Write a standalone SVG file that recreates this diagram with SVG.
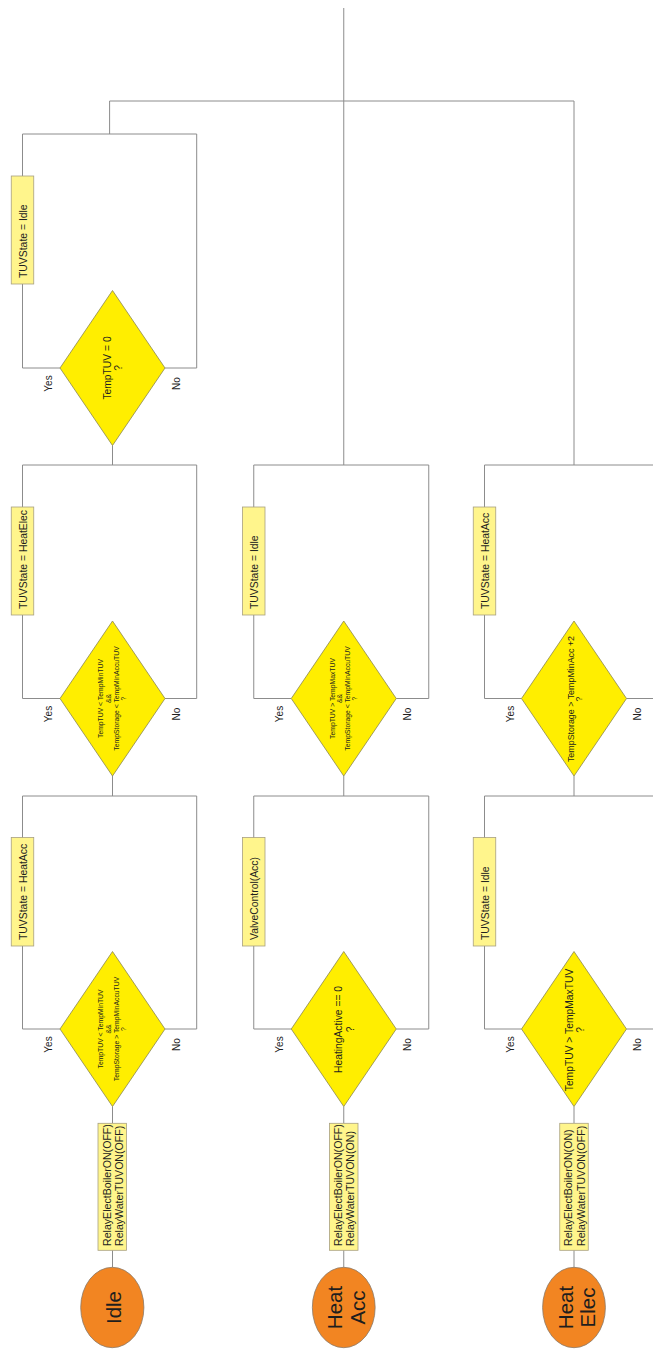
<svg xmlns="http://www.w3.org/2000/svg" width="653" height="1349" viewBox="0 0 653 1349">
<style>
.ln{fill:none;stroke:#8c8c8c;stroke-width:1}
.dia{fill:#FFEE00;stroke:#8a8650;stroke-width:0.8}
.box{fill:#FFF58C;stroke:#a8a080;stroke-width:0.8}
.ell{fill:#F28522;stroke:#8a7a6a;stroke-width:0.8}
text{font-family:"Liberation Sans",Arial,sans-serif;fill:#1e1e1e}
.t{font-size:10.4px}
.s{font-size:6.8px;text-anchor:middle}
.m{font-size:10.3px;text-anchor:middle}
.m2{font-size:8.9px;text-anchor:middle}
.r{font-size:10.6px}
.yn{font-size:10px;text-anchor:middle}
.e{font-size:20.5px;text-anchor:middle}
</style>
<rect width="653" height="1349" fill="#ffffff"/>
<g id="connectors">
<path class="ln" d="M343.75,8 V465"/>
<path class="ln" d="M109.6,134 V101 H574 V465"/>
<path class="ln" d="M112.5,445.5 V465"/>
<path class="ln" d="M112.5,776 V796 M343.75,776 V796 M574,776 V796"/>
<path class="ln" d="M112.5,1106.5 V1123.3 M343.75,1106.5 V1123.3 M574,1106.5 V1123.3"/>
<path class="ln" d="M112.5,1250.3 V1267.3 M343.75,1250.3 V1267.3 M574,1250.3 V1267.3"/>
<path class="ln" d="M60,368 H22.5 V134 H196.7 V368 H165"/>
<path class="ln" d="M60,698.5 H22.5 V465 H196.7 V698.5 H165"/>
<path class="ln" d="M291.25,698.5 H253.75 V465 H428.75 V698.5 H396.25"/>
<path class="ln" d="M521.5,698.5 H484.5 V465 H659 V698.5 H626.5"/>
<path class="ln" d="M60,1029 H22.5 V796 H196.7 V1029 H165"/>
<path class="ln" d="M291.25,1029 H253.75 V796 H428.75 V1029 H396.25"/>
<path class="ln" d="M521.5,1029 H484.5 V796 H659 V1029 H626.5"/>
<text class="yn" transform="translate(52,383.5) rotate(-90)">Yes</text>
<text class="yn" transform="translate(180,383.5) rotate(-90)">No</text>
<text class="yn" transform="translate(52,714) rotate(-90)">Yes</text>
<text class="yn" transform="translate(180,714) rotate(-90)">No</text>
<text class="yn" transform="translate(283.25,714) rotate(-90)">Yes</text>
<text class="yn" transform="translate(411.25,714) rotate(-90)">No</text>
<text class="yn" transform="translate(513.5,714) rotate(-90)">Yes</text>
<text class="yn" transform="translate(641,714) rotate(-90)">No</text>
<text class="yn" transform="translate(52,1044.5) rotate(-90)">Yes</text>
<text class="yn" transform="translate(180,1044.5) rotate(-90)">No</text>
<text class="yn" transform="translate(283.25,1044.5) rotate(-90)">Yes</text>
<text class="yn" transform="translate(411.25,1044.5) rotate(-90)">No</text>
<text class="yn" transform="translate(513.5,1044.5) rotate(-90)">Yes</text>
<text class="yn" transform="translate(641,1044.5) rotate(-90)">No</text>
</g>
<g id="act-r1c1"><rect class="box" x="11.25" y="176" width="22.5" height="108"/><text class="t" transform="translate(22.5,278) rotate(-90)" y="4.3">TUVState = Idle</text></g>
<g id="dec-r1c1"><polygon class="dia" points="112.5,290.5 165,368 112.5,445.5 60,368"/><text class="m" transform="translate(112.5,368) rotate(-90)"><tspan x="0" y="-2">TempTUV = 0</tspan><tspan x="0" y="9.5">?</tspan></text></g>

<g id="act-r2c1"><rect class="box" x="11.25" y="507" width="22.5" height="108"/><text class="t" transform="translate(22.5,609) rotate(-90)" y="4.3">TUVState = HeatElec</text></g>
<g id="dec-r2c1"><polygon class="dia" points="112.5,621 165,698.5 112.5,776 60,698.5"/><text class="s" transform="translate(112.5,698.5) rotate(-90)"><tspan x="0" y="-9.2">TempTUV &lt; TempMinTUV</tspan><tspan x="0" y="-1.6">&amp;&amp;</tspan><tspan x="0" y="6">TempStorage &lt; TempMinAccuTUV</tspan><tspan x="0" y="13.6">?</tspan></text></g>

<g id="act-r2c2"><rect class="box" x="242.5" y="507" width="22.5" height="108"/><text class="t" transform="translate(253.75,609) rotate(-90)" y="4.3">TUVState = Idle</text></g>
<g id="dec-r2c2"><polygon class="dia" points="343.75,621 396.25,698.5 343.75,776 291.25,698.5"/><text class="s" transform="translate(343.75,698.5) rotate(-90)"><tspan x="0" y="-9.2">TempTUV &gt; TempMaxTUV</tspan><tspan x="0" y="-1.6">&amp;&amp;</tspan><tspan x="0" y="6">TempStorage &lt; TempMinAccuTUV</tspan><tspan x="0" y="13.6">?</tspan></text></g>

<g id="act-r2c3"><rect class="box" x="473.25" y="507" width="22.5" height="108"/><text class="t" transform="translate(484.5,609) rotate(-90)" y="4.3">TUVState = HeatAcc</text></g>
<g id="dec-r2c3"><polygon class="dia" points="574,621 626.5,698.5 574,776 521.5,698.5"/><text class="m2" transform="translate(574,699) rotate(-90)"><tspan x="0" y="-0.5">TempStorage &gt; TempMinAcc +2</tspan><tspan x="0" y="8.3">?</tspan></text></g>

<g id="act-r3c1"><rect class="box" x="11.25" y="837.5" width="22.5" height="108.5"/><text class="t" transform="translate(22.5,940) rotate(-90)" y="4.3">TUVState = HeatAcc</text></g>
<g id="dec-r3c1"><polygon class="dia" points="112.5,951.5 165,1029 112.5,1106.5 60,1029"/><text class="s" transform="translate(112.5,1029) rotate(-90)"><tspan x="0" y="-9.2">TempTUV &lt; TempMinTUV</tspan><tspan x="0" y="-1.6">&amp;&amp;</tspan><tspan x="0" y="6">TempStorage &gt; TempMinAccuTUV</tspan><tspan x="0" y="13.6">?</tspan></text></g>

<g id="act-r3c2"><rect class="box" x="242.5" y="837.5" width="22.5" height="108.5"/><text class="t" transform="translate(253.75,940) rotate(-90)" y="4.3">ValveControl(Acc)</text></g>
<g id="dec-r3c2"><polygon class="dia" points="343.75,951.5 396.25,1029 343.75,1106.5 291.25,1029"/><text class="m" transform="translate(343.75,1029.5) rotate(-90)"><tspan x="0" y="-1.3">HeatingActive == 0</tspan><tspan x="0" y="10">?</tspan></text></g>

<g id="act-r3c3"><rect class="box" x="473.25" y="837.5" width="22.5" height="108.5"/><text class="t" transform="translate(484.5,940) rotate(-90)" y="4.3">TUVState = Idle</text></g>
<g id="dec-r3c3"><polygon class="dia" points="574,951.5 626.5,1029 574,1106.5 521.5,1029"/><text class="m" transform="translate(574,1030) rotate(-90)"><tspan x="0" y="-1.3">TempTUV &gt; TempMaxTUV</tspan><tspan x="0" y="9.5">?</tspan></text></g>

<g id="relay-c1"><rect class="box" x="98" y="1123.3" width="28.5" height="127"/><text class="r" transform="translate(112.3,1246) rotate(-90)"><tspan x="0" y="-1.6">RelayElectBoilerON(OFF)</tspan><tspan x="0" y="10.5">RelayWaterTUVON(OFF)</tspan></text></g>
<g id="relay-c2"><rect class="box" x="329.5" y="1123.3" width="28.5" height="127"/><text class="r" transform="translate(343.75,1246) rotate(-90)"><tspan x="0" y="-1.6">RelayElectBoilerON(OFF)</tspan><tspan x="0" y="10.5">RelayWaterTUVON(ON)</tspan></text></g>
<g id="relay-c3"><rect class="box" x="559.75" y="1123.3" width="28.5" height="127"/><text class="r" transform="translate(574,1246) rotate(-90)"><tspan x="0" y="-1.6">RelayElectBoilerON(ON)</tspan><tspan x="0" y="10.5">RelayWaterTUVON(OFF)</tspan></text></g>

<g id="state-idle"><ellipse class="ell" cx="112.3" cy="1307.5" rx="31.6" ry="40.2"/><text class="e" transform="translate(112.3,1307.5) rotate(-90)" x="0" y="8.5">Idle</text></g>
<g id="state-heatacc"><ellipse class="ell" cx="343.75" cy="1307.5" rx="31.4" ry="40.2"/><text class="e" transform="translate(343.75,1307.5) rotate(-90)"><tspan x="0" y="-2">Heat</tspan><tspan x="0" y="21">Acc</tspan></text></g>
<g id="state-heatelec"><ellipse class="ell" cx="574" cy="1307.5" rx="31.4" ry="40.2"/><text class="e" transform="translate(574,1307.5) rotate(-90)"><tspan x="0" y="-1.5">Heat</tspan><tspan x="0" y="21">Elec</tspan></text></g>
</svg>
